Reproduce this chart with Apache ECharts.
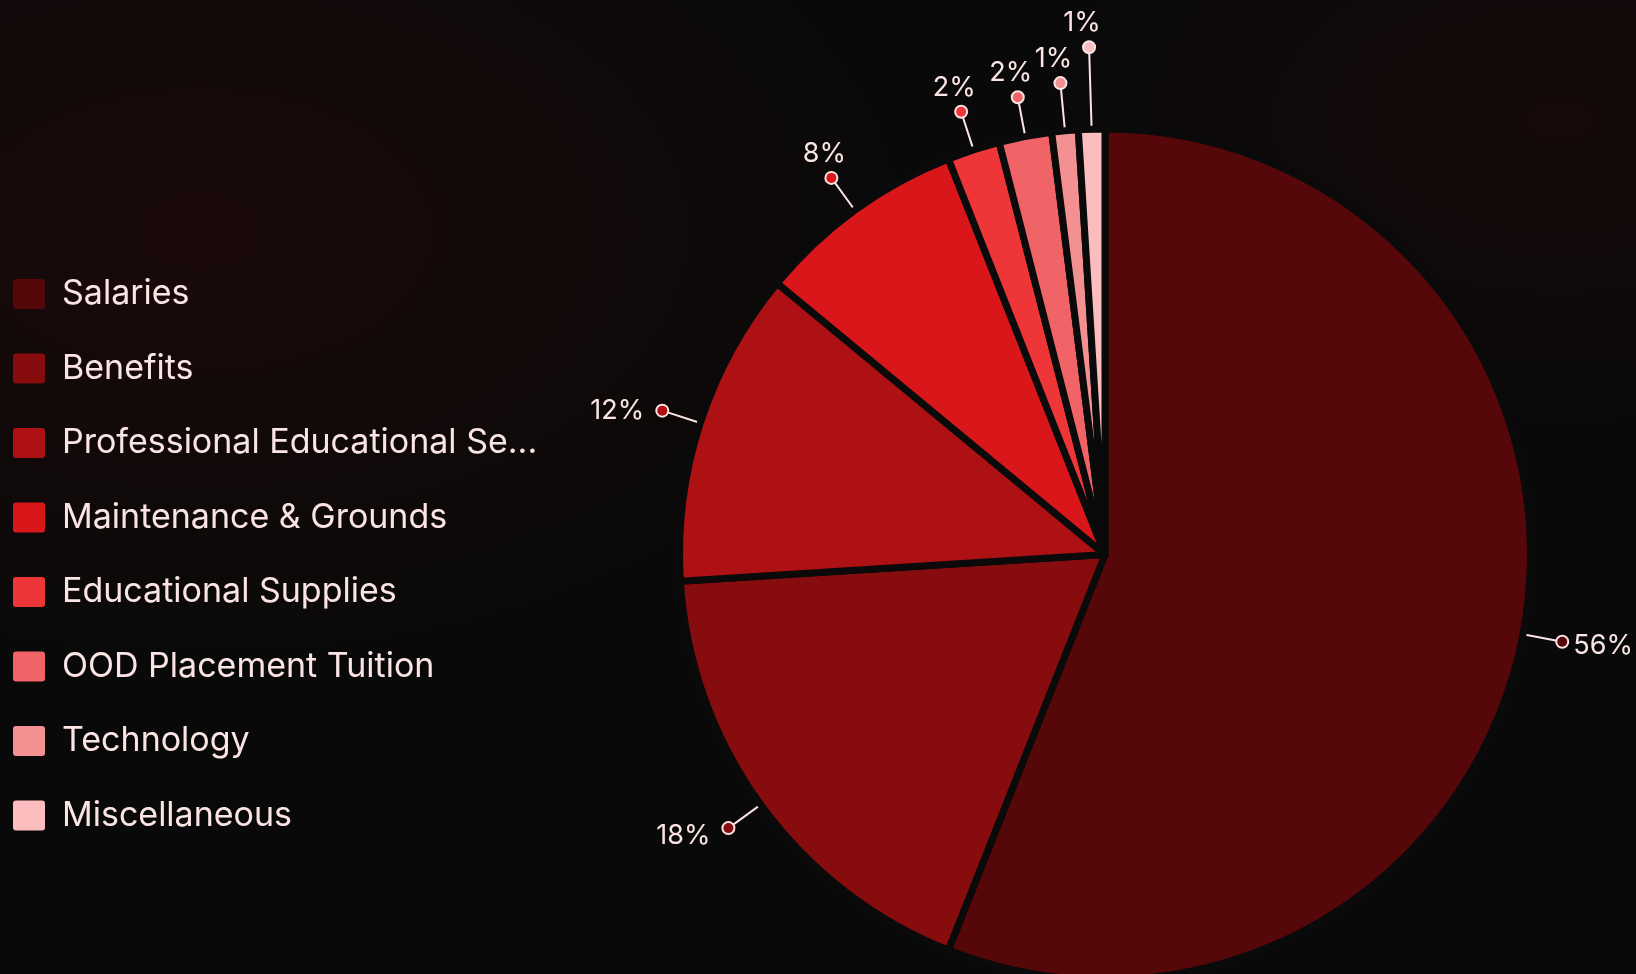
<!DOCTYPE html>
<html>
<head>
<meta charset="utf-8">
<script src="https://cdn.jsdelivr.net/npm/echarts@6/dist/echarts.min.js"></script>
<style>
  html, body { margin: 0; padding: 0; width: 1636px; height: 974px; overflow: hidden; }
  body {
    background:
      radial-gradient(ellipse 700px 420px at 200px 230px, rgba(40,10,10,0.55) 0%, rgba(40,10,10,0) 100%),
      radial-gradient(ellipse 500px 300px at 1560px 120px, rgba(36,10,10,0.45) 0%, rgba(36,10,10,0) 100%),
      #0a0909;
  }
  #chart { width: 1636px; height: 974px; }
</style>
</head>
<body>
<div id="chart"></div>
<script>
// ---- data ----
const categories = [
  'Salaries',
  'Benefits',
  'Professional Educational Services',
  'Maintenance & Grounds',
  'Educational Supplies',
  'OOD Placement Tuition',
  'Technology',
  'Miscellaneous'
];
const values = [56, 18, 12, 8, 2, 2, 1, 1];

// ---- style ----
const colors = ['#550709', '#860c0e', '#ad1113', '#d9161a', '#ee3538', '#f06467', '#f39092', '#fbbdbe'];
const labelLineLengths = [40, 40, 40, 40, 40, 40, 48, 82];
const TEXT = '#fbe4e4';
const FONT = 'Inter';

const total = values.reduce((a, b) => a + b, 0);
function midDir(i) {
  let before = 0;
  for (let k = 0; k < i; k++) before += values[k];
  const mid = (before + values[i] / 2) / total * Math.PI * 2; // clockwise from top
  return [Math.sin(mid), -Math.cos(mid)];
}
function labelMode(i) {
  const d = midDir(i);
  if (Math.abs(d[1]) > Math.abs(d[0])) return d[1] < 0 ? 'top' : 'bottom';
  return d[0] > 0 ? 'right' : 'left';
}
function textShift(i) {
  const d = midDir(i);
  return Math.max(0, Math.round((d[1] * 12 + 1) / 4) * 4);
}

const data = categories.map((n, i) => ({
  name: n,
  value: values[i],
  itemStyle: { color: colors[i] },
  label: { rich: { dot: { backgroundColor: colors[i] } } },
  labelLine: { length: labelLineLengths[i] }
}));

const sideText = (pad) => ({ fontFamily: FONT, fontSize: 27, color: TEXT, lineHeight: 34, padding: pad });
const rich = {
  dot: { width: 10, height: 10, lineHeight: 12, borderRadius: 6, borderColor: TEXT, borderWidth: 2, align: 'center', verticalAlign: 'middle' },
  tt: { fontFamily: FONT, fontSize: 27, color: TEXT, lineHeight: 36, padding: [0, 14, 0, 0], align: 'center' }
};
[0, 4, 8, 12].forEach(s => {
  rich['tr' + s] = sideText([2 * s, 0, 0, 6]);
  rich['tl' + s] = sideText([2 * s, 13, 0, 0]);
});

const chart = echarts.init(document.getElementById('chart'), null, { renderer: 'canvas' });
chart.setOption({
  backgroundColor: 'transparent',
  animation: false,
  legend: {
    orient: 'vertical',
    left: 13,
    top: 277,
    padding: 0,
    itemWidth: 32,
    itemHeight: 30,
    itemGap: 40.5,
    icon: 'path://M3,0 H29 Q32,0 32,3 V27 Q32,30 29,30 H3 Q0,30 0,27 V3 Q0,0 3,0 Z',
    itemStyle: { borderWidth: 0 },
    selectedMode: false,
    textStyle: {
      color: TEXT,
      fontFamily: FONT,
      fontSize: 34,
      padding: [0, 0, 0, 12],
      width: 486,
      overflow: 'truncate',
      ellipsis: '...'
    },
    data: categories
  },
  series: [{
    type: 'pie',
    center: [1105, 554.5],
    radius: 425.5,
    startAngle: 90,
    clockwise: true,
    avoidLabelOverlap: false,
    emphasis: { disabled: true },
    itemStyle: { borderColor: '#0a0a0a', borderWidth: 7 },
    label: {
      show: true,
      position: 'outside',
      fontFamily: FONT,
      color: TEXT,
      formatter: function (p) {
        const pct = Math.round(p.percent) + '%';
        const m = labelMode(p.dataIndex);
        const s = textShift(p.dataIndex);
        if (m === 'right') return '{dot|}{tr' + s + '|' + pct + '}';
        if (m === 'left') return '{tl' + s + '|' + pct + '}{dot|}';
        if (m === 'top') return '{tt|' + pct + '}\n{dot|}';
        return '{dot|}\n{tt|' + pct + '}';
      },
      rich: rich
    },
    labelLine: {
      show: true,
      length: 40,
      length2: 0,
      smooth: false,
      lineStyle: { color: TEXT, width: 2 }
    },
    labelLayout: function (params) {
      const pts = params.labelLinePoints;
      if (!pts) return {};
      const end = pts[pts.length - 1];
      const m = labelMode(params.dataIndex);
      const linePts = [pts[0], end];
      if (m === 'right') return { x: end[0] - 5, y: end[1], align: 'left', verticalAlign: 'middle', labelLinePoints: linePts };
      if (m === 'left') return { x: end[0] + 5, y: end[1], align: 'right', verticalAlign: 'middle', labelLinePoints: linePts };
      if (m === 'top') return { x: end[0], y: end[1] + 6, align: 'center', verticalAlign: 'bottom', labelLinePoints: linePts };
      return { x: end[0], y: end[1] - 6, align: 'center', verticalAlign: 'top', labelLinePoints: linePts };
    },
    data: data
  }]
});
</script>
</body>
</html>
